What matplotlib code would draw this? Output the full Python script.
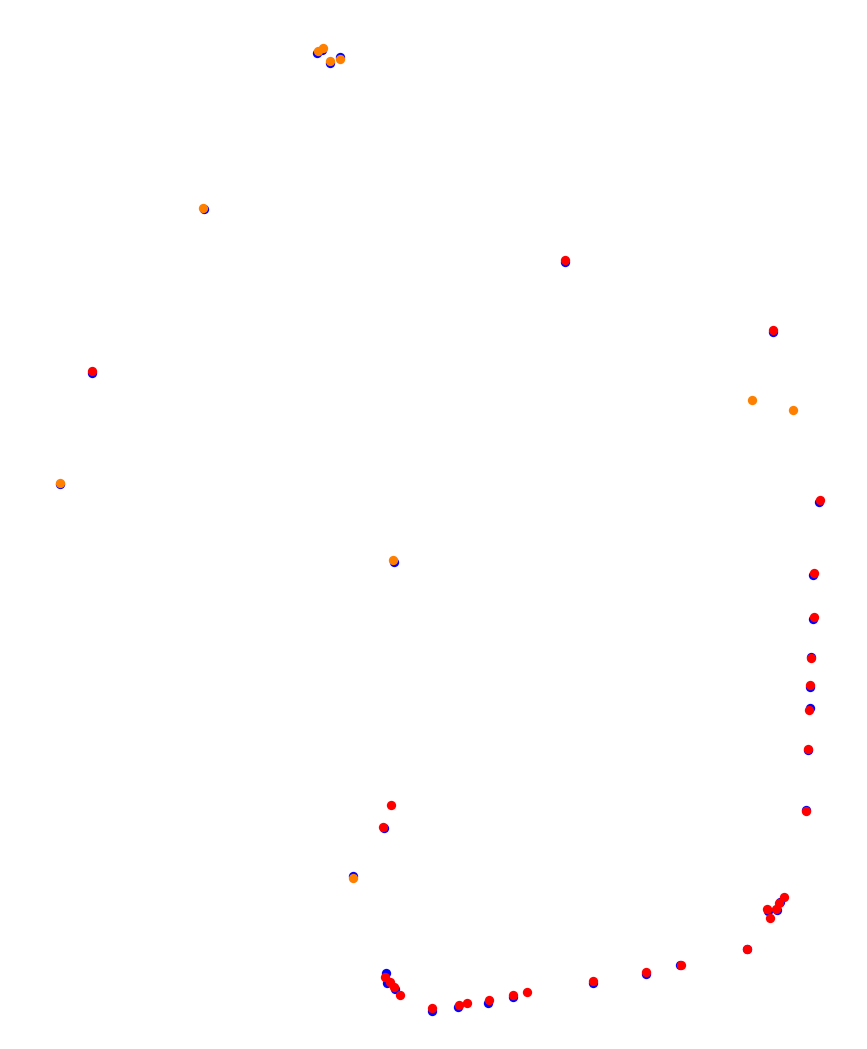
import matplotlib
matplotlib.use('Agg')
import matplotlib.pyplot as plt

# blue series (drawn underneath)
blue_x = [317, 322, 330, 340, 204, 60, 394, 353, 565, 773, 92, 819, 813, 813, 811, 810, 810, 808, 806,
          384, 386, 387, 395, 432, 458, 488, 513, 593, 646, 680, 768, 777, 780, 747]
blue_y = [53, 50, 63, 57, 209, 484, 562, 876, 262, 332, 373, 502, 575, 619, 657, 687, 708, 750, 810,
          828, 973, 983, 989, 1011, 1007, 1003, 997, 983, 974, 965, 911, 910, 902, 949]

# red series
red_x = [565, 773, 92, 820, 814, 814, 811, 810, 809, 808, 806, 391, 383,
         385, 390, 394, 400, 432, 459, 467, 489, 513, 527, 593, 646, 681,
         767, 770, 776, 779, 784, 747]
red_y = [260, 330, 371, 500, 573, 617, 658, 685, 710, 749, 811, 805, 827,
         977, 982, 987, 995, 1008, 1005, 1003, 1000, 995, 992, 981, 972, 965,
         909, 918, 909, 903, 897, 949]

# orange series
orange_x = [318, 323, 330, 340, 203, 752, 793, 60, 393, 353]
orange_y = [51, 48, 61, 59, 208, 400, 410, 483, 560, 878]

fig = plt.figure(figsize=(8.67, 10.49), dpi=100, facecolor='white')
ax = fig.add_axes([0, 0, 1, 1])
ax.axis('off')
ax.set_xlim(0, 867)
ax.set_ylim(1049, 0)

s = 45
ax.scatter(blue_x, blue_y, s=s, c='blue', linewidths=0)
ax.scatter(red_x, red_y, s=s, c='red', linewidths=0)
ax.scatter(orange_x, orange_y, s=s, c='#ff8000', linewidths=0)

fig.savefig('out.png', dpi=100, facecolor='white')
